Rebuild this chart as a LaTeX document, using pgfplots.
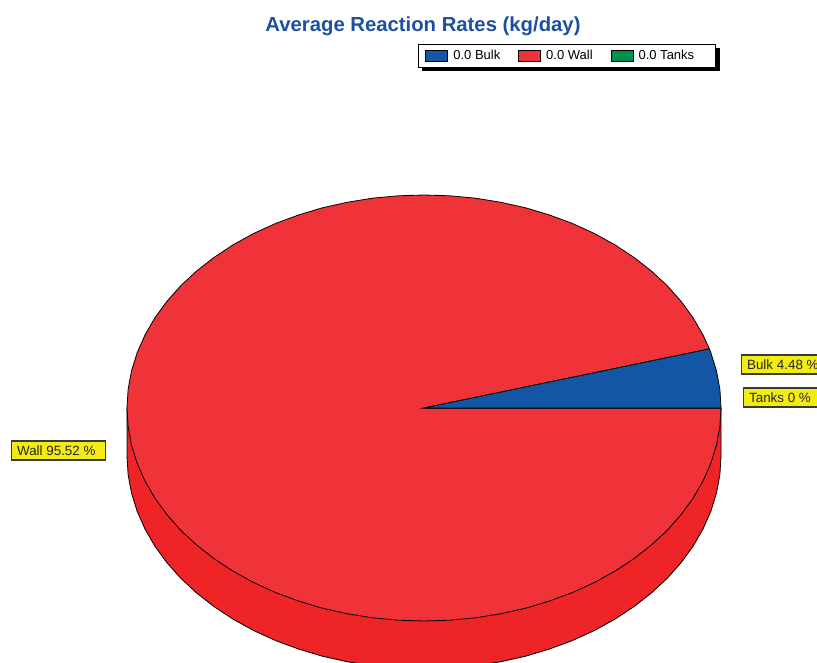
\documentclass[border=0pt]{standalone}
\usepackage{fontspec}
\setmainfont{Liberation Sans}
\usepackage{pgfplots}
\pgfplotsset{compat=1.18}
\definecolor{wall}{HTML}{EF3338}
\definecolor{side}{HTML}{EE2427}
\definecolor{bulk}{HTML}{1356A5}
\definecolor{tanks}{HTML}{008F4C}
\definecolor{lab}{HTML}{F2EC12}
\definecolor{ttl}{HTML}{1E4FA0}
\definecolor{edge}{HTML}{3A3A3A}
\begin{document}
\begin{tikzpicture}
\path[use as bounding box,clip] (0,0) rectangle (817pt,662pt);
\begin{axis}[
  at={(0,0)},anchor=south west,
  scale only axis,width=817pt,height=662pt,
  xmin=0,xmax=817,ymin=0,ymax=662,y dir=reverse,
  hide axis,
  legend columns=3,
  legend cell align=left,
  legend image code/.code={\draw[#1,line width=0.9pt] (0pt,-5.5pt) rectangle (22pt,5.5pt);},
  legend style={
    at={(0.5116,0.9335)},anchor=north west,
    draw=black,line width=0.9pt,fill=white,
    font=\fontsize{13}{15}\selectfont,
    inner xsep=7pt,inner ysep=3.5pt,
    /tikz/every odd column/.append style={column sep=3pt},
    /tikz/every even column/.append style={column sep=16pt},
    nodes={inner sep=2pt,text height=9.5pt,text depth=2pt},
  },
]
% legend
\addlegendimage{fill=bulk,draw=black}
\addlegendentry{0.0 Bulk}
\addlegendimage{fill=wall,draw=black}
\addlegendentry{0.0 Wall}
\addlegendimage{fill=tanks,draw=black}
\addlegendentry{0.0 Tanks\kern12pt}
% legend shadow
\fill[black] (axis cs:422,48) rectangle (axis cs:720,71);
% pie body (front half of the lower rim)
\addplot[forget plot,fill=side,draw=black,line width=0.8pt] coordinates {
 (721,408) (721,456) (719.9,474.6) (716.5,493) (710.9,511.1) (703.1,528.8) (693.2,546)
 (681.2,562.5) (667.3,578.2) (651.5,592.9) (634,606.6) (614.9,619.2) (594.4,630.5)
 (572.5,640.5) (549.5,649) (525.6,656.2) (500.9,661.7) (475.6,665.8) (449.9,668.2)
 (424,669) (398.1,668.2) (372.4,665.8) (347.1,661.7) (322.4,656.2) (298.5,649)
 (275.5,640.5) (253.6,630.5) (233.1,619.2) (214,606.6) (196.5,592.9) (180.7,578.2)
 (166.8,562.5) (154.8,546) (144.9,528.8) (137.1,511.1) (131.5,493) (128.1,474.6)
 (127,456) (127,408)
} -- cycle;
% Wall 95.52 %
\addplot[forget plot,fill=wall,draw=black,line width=0.8pt] coordinates {
 (424,408) (709.4,348.9) (703.1,335.2) (693.2,318) (681.2,301.5) (667.3,285.8)
 (651.5,271.1) (634,257.4) (614.9,244.8) (594.4,233.5) (572.5,223.5) (549.5,215)
 (525.6,207.8) (500.9,202.3) (475.6,198.2) (449.9,195.8) (424,195) (398.1,195.8)
 (372.4,198.2) (347.1,202.3) (322.4,207.8) (298.5,215) (275.5,223.5) (253.6,233.5)
 (233.1,244.8) (214,257.4) (196.5,271.1) (180.7,285.8) (166.8,301.5) (154.8,318)
 (144.9,335.2) (137.1,352.9) (131.5,371) (128.1,389.4) (127,408) (128.1,426.6)
 (131.5,445) (137.1,463.1) (144.9,480.8) (154.8,498) (166.8,514.5) (180.7,530.2)
 (196.5,544.9) (214,558.6) (233.1,571.2) (253.6,582.5) (275.5,592.5) (298.5,601)
 (322.4,608.2) (347.1,613.7) (372.4,617.8) (398.1,620.2) (424,621) (449.9,620.2)
 (475.6,617.8) (500.9,613.7) (525.6,608.2) (549.5,601) (572.5,592.5) (594.4,582.5)
 (614.9,571.2) (634,558.6) (651.5,544.9) (667.3,530.2) (681.2,514.5) (693.2,498)
 (703.1,480.8) (710.9,463.1) (716.5,445) (719.9,426.6) (721,408)
} -- cycle;
% Bulk 4.48 %
\addplot[forget plot,fill=bulk,draw=black,line width=0.8pt] coordinates {
 (424,408) (721,408) (719.9,389.4) (716.5,371) (710.9,352.9) (709.4,348.9)
} -- cycle;
% Tanks 0 %
\addplot[forget plot,fill=tanks,draw=black,line width=0.8pt] coordinates {
 (424,408) (721,408)
} -- cycle;
\node[anchor=base,text=ttl,font=\fontsize{20.3}{24}\selectfont\bfseries] at (axis cs:423,31) {Average Reaction Rates (kg/day)};
\tikzset{lbl/.style={anchor=west,draw=edge,fill=lab,line width=1.2pt,inner xsep=5.5pt,inner ysep=0pt,
  minimum height=19pt,font=\fontsize{13.4}{15}\selectfont,text=black!85}}
\node[lbl] at (axis cs:741,364.5) {Bulk 4.48 \%\kern6pt};
\node[lbl] at (axis cs:743,397.5) {Tanks 0 \%\kern6pt};
\node[lbl] at (axis cs:11,450.5) {Wall 95.52 \%\kern4.5pt};
\end{axis}
\end{tikzpicture}
\end{document}
